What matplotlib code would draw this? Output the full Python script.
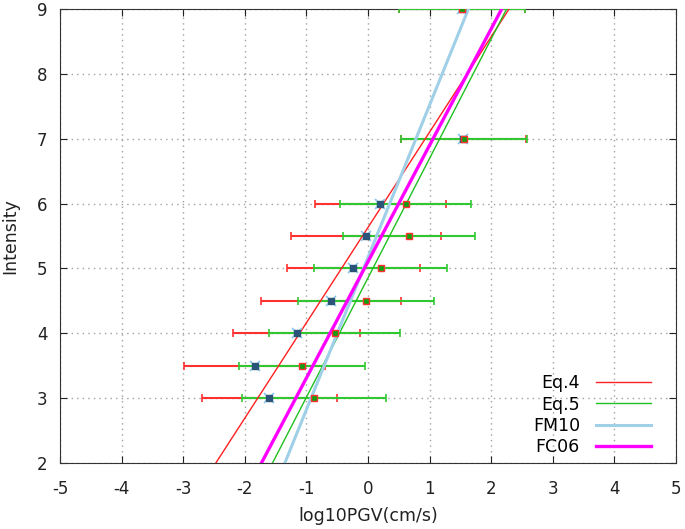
import numpy as np
import matplotlib.pyplot as plt

plt.rcParams['axes.unicode_minus'] = False

intensity = [3.0, 3.5, 4.0, 4.5, 5.0, 5.5, 6.0, 7.0, 9.0]
pgv_a = [-1.60, -1.84, -1.16, -0.60, -0.24, -0.03, 0.20, 1.55, 1.53]
err_a = [1.09, 1.14, 1.03, 1.14, 1.08, 1.22, 1.06, 1.02, 1.02]
pgv_b = [-0.88, -1.07, -0.54, -0.03, 0.21, 0.67, 0.61, 1.56, 1.53]
err_b = [1.17, 1.02, 1.06, 1.10, 1.08, 1.07, 1.07, 1.02, 1.02]

# fitted relations: log10PGV at intensity 2 and 9
fit_names = ['Eq.4', 'Eq.5', 'FM10', 'FC06']
fit_x = [[-2.47, 2.29], [-1.55, 2.25], [-1.35, 1.63], [-1.73, 2.17]]
fit_y = [2, 9]
fit_colors = ['#ff2020', '#20c020', '#9fd0e8', '#ff00ff']
fit_widths = [1.0, 1.0, 2.2, 2.4]

fig = plt.figure(figsize=(6.85, 5.29), dpi=100)
ax = fig.add_axes([60 / 685, 66 / 529, 616 / 685, 454 / 529])

ax.errorbar(pgv_a, intensity, xerr=err_a, fmt='none', ecolor='#ff3030',
            elinewidth=1.5, capsize=3, capthick=1.2, zorder=2)
ax.errorbar(pgv_b, intensity, xerr=err_b, fmt='none', ecolor='#30c830',
            elinewidth=1.5, capsize=3, capthick=1.2, zorder=3)

for name, xs, c, w in zip(fit_names, fit_x, fit_colors, fit_widths):
    ax.plot(xs, fit_y, color=c, lw=w, label=name, zorder=4)

ax.plot(pgv_a, intensity, 'x', ms=7, mew=1.3, color='#8ec8e8', zorder=5)
ax.plot(pgv_a, intensity, 's', ms=4.5, mfc='#2a5578', mec='#2a5578', zorder=5)
ax.plot(pgv_b, intensity, 's', ms=4.5, mfc='#10a010', mec='#ff3030', mew=1.0, zorder=6)

ax.set_xlim(-5, 5)
ax.set_ylim(2, 9)
ax.set_xticks(range(-5, 6))
ax.set_yticks(range(2, 10))
ax.grid(True, color='#a0a0a0', linestyle=(0, (1, 3)), lw=1)
ax.tick_params(direction='in', top=True, right=True, length=5, labelsize=12,
               colors='#222222')
ax.tick_params(axis='x', pad=12)
ax.tick_params(axis='y', pad=9)
for s in ax.spines.values():
    s.set_color('#333333')
ax.set_xlabel('log10PGV(cm/s)', fontsize=12.5, color='#222222', labelpad=7)
ax.set_ylabel('Intensity', fontsize=12.5, color='#222222', labelpad=13)

ax.legend(loc='lower right', bbox_to_anchor=(0.985, -0.02), frameon=False,
          markerfirst=False, fontsize=12.5, handlelength=3.2, labelspacing=0.2,
          handletextpad=0.9)

fig.savefig('out.png', dpi=100)
